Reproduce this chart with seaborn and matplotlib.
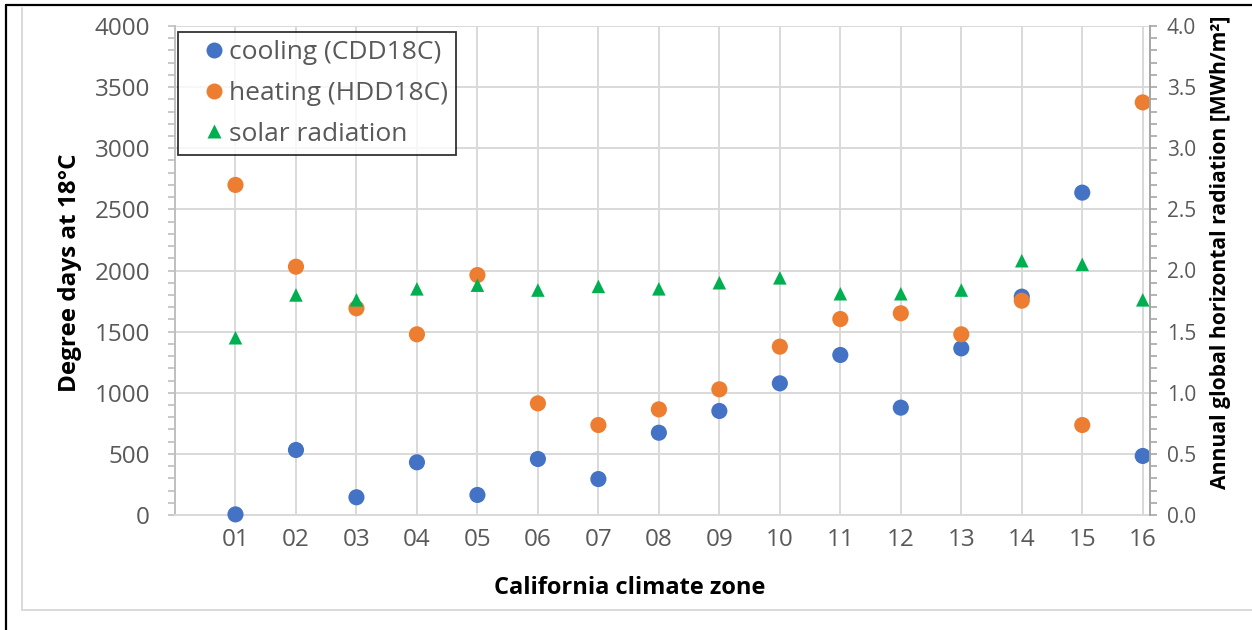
import matplotlib
matplotlib.use("Agg")
import matplotlib.pyplot as plt
from matplotlib.lines import Line2D
from matplotlib.legend_handler import HandlerLine2D
from matplotlib.ticker import MultipleLocator
import seaborn as sns
import pandas as pd

# ---- data ----
zones = ["01", "02", "03", "04", "05", "06", "07", "08",
         "09", "10", "11", "12", "13", "14", "15", "16"]
cooling = [5, 532, 145, 431, 164, 458, 294, 673, 851, 1077, 1309, 878, 1363, 1786, 2637, 483]
heating = [2700, 2031, 1691, 1478, 1963, 913, 736, 864, 1028, 1377, 1603, 1650, 1478, 1753, 736, 3375]
solar = [1.45, 1.80, 1.76, 1.85, 1.88, 1.84, 1.87, 1.85, 1.90, 1.94, 1.81, 1.81, 1.84, 2.08, 2.05, 1.76]

labels = ["cooling (CDD18C)", "heating (HDD18C)", "solar radiation"]
colors = ["#4472C4", "#ED7D31", "#00B050"]

pos = list(range(1, len(zones) + 1))
df = pd.DataFrame({"pos": pos, "zone": zones, "cooling": cooling,
                   "heating": heating, "solar": solar})

sns.set_theme(style="white")
plt.rcParams["font.family"] = ["Open Sans", "DejaVu Sans"]

fig = plt.figure(figsize=(12.52, 6.30), dpi=100)
ax = fig.add_axes([175 / 1252, 1 - 515 / 630, 975 / 1252, 489 / 630])
ax2 = ax.twinx()

sns.scatterplot(data=df, x="pos", y="cooling", ax=ax, color=colors[0], s=135,
                edgecolor="none", linewidth=0, clip_on=False, zorder=3)
sns.scatterplot(data=df, x="pos", y="heating", ax=ax, color=colors[1], s=135,
                edgecolor="none", linewidth=0, clip_on=False, zorder=4)
sns.scatterplot(data=df, x="pos", y="solar", ax=ax2, color=colors[2], s=95,
                marker="^", edgecolor="none", linewidth=0, clip_on=False, zorder=5)

ax.set_xlim(0, 16.12)
ax.set_ylim(0, 4000)
ax2.set_ylim(0, 4.0)

ax.set_xticks(pos)
ax.set_xticklabels(zones)
ax.yaxis.set_major_locator(MultipleLocator(500))
ax.yaxis.set_minor_locator(MultipleLocator(100))
ax2.yaxis.set_major_locator(MultipleLocator(0.5))
ax2.yaxis.set_minor_locator(MultipleLocator(0.1))
ax2.yaxis.set_major_formatter(matplotlib.ticker.FormatStrFormatter("%.1f"))

grid_c = "#D9D9D9"
ax.grid(True, which="major", axis="both", color=grid_c, linewidth=1.4, zorder=0)
ax.set_axisbelow(True)

for a in (ax, ax2):
    for s in a.spines.values():
        s.set_visible(False)
ax.spines["left"].set_visible(True)
ax.spines["left"].set_color("#BFBFBF")
ax.spines["left"].set_linewidth(1.4)
ax.spines["bottom"].set_visible(True)
ax.spines["bottom"].set_color(grid_c)
ax.spines["bottom"].set_linewidth(1.4)
ax2.spines["right"].set_visible(True)
ax2.spines["right"].set_color("#A6A6A6")
ax2.spines["right"].set_linewidth(1.4)

tick_c = "#595959"
ax.tick_params(axis="x", length=0, pad=9, labelsize=17.5, labelcolor=tick_c)
ax.tick_params(axis="y", which="both", direction="out", length=5, width=1.2,
               color="#BFBFBF", pad=13, labelsize=17.5, labelcolor=tick_c, left=True)
ax2.tick_params(axis="y", which="both", direction="out", length=5, width=1.2,
                color="#A6A6A6", pad=7, labelsize=15, labelcolor=tick_c, right=True)

ax.set_xlabel("California climate zone", fontsize=17, fontweight="bold", color="black")
ax.xaxis.set_label_coords((630 - 175) / 975, (515 - 576) / 489)
ax.set_ylabel("Degree days at 18°C", fontsize=17.5, fontweight="bold", color="black")
ax.yaxis.set_label_coords((82 - 175) / 975, 0.495)
ax2.set_ylabel("Annual global horizontal radiation [MWh/m²]", fontsize=15.2,
               fontweight="bold", color="black")
ax2.yaxis.set_label_coords((1210 - 175) / 975, 0.537)

handles = [
    Line2D([], [], linestyle="none", marker="o", markersize=11.5,
           markerfacecolor=colors[0], markeredgecolor="none"),
    Line2D([], [], linestyle="none", marker="o", markersize=11.5,
           markerfacecolor=colors[1], markeredgecolor="none"),
    Line2D([], [], linestyle="none", marker="^", markersize=9.5,
           markerfacecolor=colors[2], markeredgecolor="none"),
]
hmap = {h: HandlerLine2D(numpoints=1, xpad=0.95) for h in handles}
leg = ax2.legend(handles, labels, loc="upper left",
                 bbox_to_anchor=(3 / 975, (515 - 32) / 489),
                 borderaxespad=0, frameon=True, fancybox=False,
                 fontsize=19, labelcolor=tick_c, handlelength=1.2,
                 handletextpad=0.45, labelspacing=0.6, borderpad=0.3,
                 handler_map=hmap)
leg.get_frame().set_edgecolor("black")
leg.get_frame().set_linewidth(1.3)

# figure border lines
fig.add_artist(Line2D([6 / 1252, 6 / 1252], [0, 1 - 5 / 630],
                      color="black", linewidth=1.6, transform=fig.transFigure))
fig.add_artist(Line2D([6 / 1252, 1], [1 - 5 / 630, 1 - 5 / 630],
                      color="black", linewidth=1.6, transform=fig.transFigure))
fig.add_artist(Line2D([22 / 1252, 22 / 1252], [1 - 610 / 630, 1 - 8 / 630],
                      color="#D9D9D9", linewidth=1.4, transform=fig.transFigure))
fig.add_artist(Line2D([22 / 1252, 1], [1 - 610 / 630, 1 - 610 / 630],
                      color="#D9D9D9", linewidth=1.4, transform=fig.transFigure))

fig.savefig("out.png", dpi=100)
